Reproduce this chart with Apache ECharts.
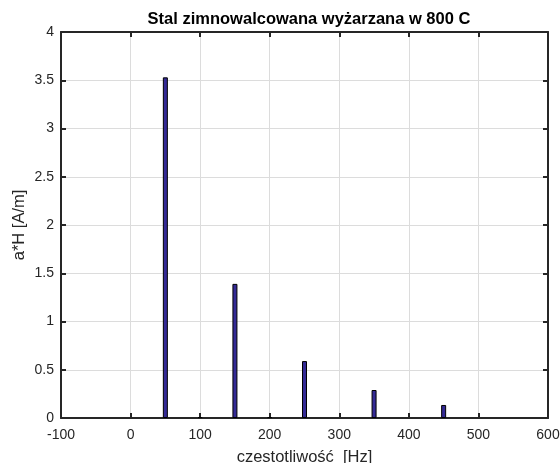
<!DOCTYPE html>
<html>
<head>
<meta charset="utf-8">
<script src="https://cdn.jsdelivr.net/npm/echarts@6/dist/echarts.min.js"></script>
<style>
  html, body { margin: 0; padding: 0; background: #fff; }
  #chart { width: 560px; height: 463px; }
</style>
</head>
<body>
<div id="chart"></div>
<script>
// Harmonic frequencies [Hz] and amplitudes a*H [A/m]
const frequencies = [50, 100, 150, 200, 250, 350, 450];
const amplitudes  = [3.53, 0.01, 1.39, 0.01, 0.59, 0.29, 0.135];
const xTicks = [-100, 0, 100, 200, 300, 400, 500, 600];
const yTicks = [0, 0.5, 1, 1.5, 2, 2.5, 3, 3.5, 4];

const FONT = '"Liberation Sans", Arial, sans-serif';
const AXIS = '#262626';
const GRID = '#dcdcdc';

const barData = frequencies.map((f, i) => [f, amplitudes[i]]);

const baseX = {
  type: 'value', min: xTicks[0], max: xTicks[xTicks.length - 1], interval: 100,
  axisLine: { show: true, onZero: false, lineStyle: { color: AXIS, width: 2 } },
  axisTick: { show: true, inside: true, length: 5, lineStyle: { color: AXIS, width: 2 } },
  splitLine: { show: false }
};
const baseY = {
  type: 'value', min: yTicks[0], max: yTicks[yTicks.length - 1], interval: 0.5,
  axisLine: { show: true, onZero: false, lineStyle: { color: AXIS, width: 2 } },
  axisTick: { show: true, inside: true, length: 5, lineStyle: { color: AXIS, width: 2 } },
  splitLine: { show: false }
};

const chart = echarts.init(document.getElementById('chart'), null, { renderer: 'canvas' });
chart.setOption({
  animation: false,
  backgroundColor: '#fff',
  title: {
    text: 'Stal zimnowalcowana wyżarzana w 800 C',
    left: 304, top: 6, textAlign: 'center',
    textStyle: { fontFamily: FONT, fontSize: 16.5, fontWeight: 'bold', color: '#000' }
  },
  grid: { left: 61, right: 12, top: 32, bottom: 45, containLabel: false, outerBoundsMode: 'none' },
  xAxis: [
    Object.assign({}, baseX, {
      position: 'bottom',
      name: 'czestotliwość  [Hz]', nameLocation: 'middle', nameGap: 31,
      nameTextStyle: { fontFamily: FONT, fontSize: 16.5, color: AXIS },
      axisLabel: { fontFamily: FONT, fontSize: 14, color: AXIS, margin: 10,
        formatter: v => String(v) },
      splitLine: { show: true, lineStyle: { color: GRID, width: 1 } }
    }),
    Object.assign({}, baseX, { position: 'top', axisLabel: { show: false } })
  ],
  yAxis: [
    Object.assign({}, baseY, {
      position: 'left',
      name: 'a*H [A/m]', nameLocation: 'middle', nameGap: 33, nameMoveOverlap: false,
      nameTextStyle: { fontFamily: FONT, fontSize: 16.5, color: AXIS },
      axisLabel: { fontFamily: FONT, fontSize: 14, color: AXIS, margin: 7,
        formatter: v => String(v) },
      splitLine: { show: true, lineStyle: { color: GRID, width: 1 } }
    }),
    Object.assign({}, baseY, { position: 'right', axisLabel: { show: false } })
  ],
  series: [{
    type: 'bar',
    xAxisIndex: 0, yAxisIndex: 0,
    data: barData,
    barWidth: 5,
    itemStyle: { color: '#342a96', borderColor: '#000', borderWidth: 1 },
    z: 3
  }]
});
</script>
</body>
</html>
